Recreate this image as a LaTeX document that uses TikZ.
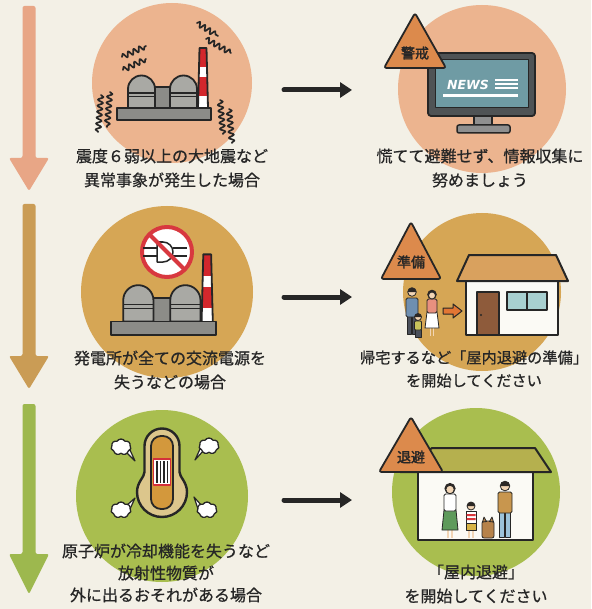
\documentclass[tikz,border=0pt]{standalone}
\usepackage{fontspec}
\newfontfamily\jpfont[FakeBold=0.8]{Noto Sans CJK JP}
\newfontfamily\signfont[FakeBold=2]{Noto Sans CJK JP}
\newfontfamily\newsfont{DejaVu Sans}
\usetikzlibrary{arrows.meta,decorations.pathmorphing,shapes.symbols}

\definecolor{paper}{HTML}{F3F0E6}
\definecolor{peach}{HTML}{ECB48F}
\definecolor{gold}{HTML}{D6A655}
\definecolor{leaf}{HTML}{A9BE4F}
\definecolor{flowA}{HTML}{E8A686}
\definecolor{flowB}{HTML}{CA9C55}
\definecolor{flowC}{HTML}{9DB84E}
\definecolor{ink}{HTML}{262626}
\definecolor{warn}{HTML}{DC8A4C}
\definecolor{dome}{HTML}{A9A9A4}
\definecolor{steel}{HTML}{8C8C88}
\definecolor{chimred}{HTML}{D3272C}
\definecolor{screen}{HTML}{6F9BA4}
\definecolor{bezel}{HTML}{4F5355}
\definecolor{standgray}{HTML}{8F8F8F}
\definecolor{nored}{HTML}{D8383F}
\definecolor{vessel}{HTML}{DCC68C}
\definecolor{core}{HTML}{D3983C}
\definecolor{fuelred}{HTML}{D42F3A}
\definecolor{roofA}{HTML}{D9A15E}
\definecolor{roofB}{HTML}{B5B04E}
\definecolor{wall}{HTML}{FBFAF5}
\definecolor{door}{HTML}{8E5B3B}
\definecolor{glass}{HTML}{A8D0D0}
\definecolor{arrowor}{HTML}{E27634}
\definecolor{skin}{HTML}{F2D5B5}
\definecolor{hair}{HTML}{2C2826}
\definecolor{shirtblue}{HTML}{6F8FB0}
\definecolor{pantsdark}{HTML}{4B505B}
\definecolor{pink}{HTML}{E8907F}
\definecolor{kidgreen}{HTML}{C7C35A}
\definecolor{skirtgreen}{HTML}{5E9A5B}
\definecolor{stripe}{HTML}{D8353A}
\definecolor{shorts}{HTML}{D8B345}
\definecolor{dogbrown}{HTML}{B6824A}
\definecolor{jacket}{HTML}{C8964E}
\definecolor{jeans}{HTML}{9CC3DA}

\tikzset{
  ink line/.style={draw=ink, line width=1.8pt, line join=round},
  thin ink/.style={draw=ink, line width=0.8pt, line join=round},
  caption/.style={font=\jpfont\fontsize{16}{24}\selectfont, text=ink, align=center, inner sep=0pt},
  sign text/.style={font=\signfont\fontsize{14}{14}\selectfont, text=ink, inner sep=0pt},
  warn sign/.style={fill=warn, draw=ink, line width=1.8pt, rounded corners=2.5pt},
  quake/.style={draw=ink, line width=1.7pt, line cap=round, decorate,
    decoration={snake, amplitude=2.6pt, segment length=6pt}},
  flow/.style={draw=ink, line width=5pt, line cap=round, -{Triangle[length=12pt,width=15pt]}},
  puff/.style={cloud, cloud puffs=7, cloud puff arc=120, aspect=1.3, draw=ink, fill=white,
    line width=1.3pt, minimum width=20pt, minimum height=16pt, inner sep=0pt},
  pics/plant/.style={code={
    % striped chimney
    \begin{scope}
      \clip (80,-12) -- (81.5,-72) -- (88.5,-72) -- (90,-12) -- cycle;
      \fill[white] (78,-74) rectangle (92,-12);
      \fill[chimred] (78,-74) rectangle (92,-53);
      \fill[chimred] (78,-43) rectangle (92,-24);
    \end{scope}
    \draw[ink line] (80,-12) -- (81.5,-72) -- (88.5,-72) -- (90,-12);
    % block between the domes
    \filldraw[ink line, fill=steel] (36,-12) rectangle (54,-33);
    % two reactor domes
    \foreach \l in {10,52}{
      \filldraw[ink line, fill=dome] (\l,-12) -- (\l,-31)
        arc[start angle=180, end angle=360, radius=13.5] -- ({\l+27},-12) -- cycle;
      \draw[ink line, line width=1.2pt] (\l,-27) -- ({\l+27},-27) (\l,-23.5) -- ({\l+27},-23.5);
    }
    % base slab
    \filldraw[ink line, fill=steel] (-1,0) rectangle (93,-12);
  }},
}

\newcommand\flowarrow[4]{%
  \fill[#1, rounded corners=2pt] (22.5,#2) -- (35.5,#2) -- (35.5,#3) -- (49,#3)
    -- (29,#4) -- (9,#3) -- (22.5,#3) -- cycle;}

\begin{document}
\begin{tikzpicture}[x=1pt, y=-1pt, line join=round]
\useasboundingbox (0,0) rectangle (591,609);
\fill[paper] (0,0) rectangle (591,609);

% ---- stage arrows on the left ----
\flowarrow{flowA}{6}{158}{191}
\flowarrow{flowB}{204}{356}{389}
\flowarrow{flowC}{404}{554}{594}

% ---- background discs ----
\fill[peach] (172,83) circle (80);
\fill[peach] (482,89) circle (84);
\fill[gold] (167,292) circle (86);
\fill[gold] (482,292) circle (79);
\fill[leaf] (162,496) circle (86);
\fill[leaf] (476,492) circle (84);

% ---- stage 1: earthquake at the plant ----
\pic at (118,120) {plant};
\draw[quake] (122,57) -- (146,46);
\draw[quake] (123,70) -- (146,59);
\draw[quake] (197,23) -- (218,36);
\draw[quake] (206,39) -- (231,53);
\draw[quake] (101,95) -- (98,132);
\draw[quake] (110,92) -- (107,127);
\draw[quake] (220,100) -- (223,134);
\draw[quake] (229,109) -- (232,143);

% ---- stage 1: news on TV ----
\filldraw[ink line, fill=bezel, rounded corners=3pt] (428,53) rectangle (535,116);
\filldraw[fill=screen, draw=ink, line width=1pt] (435,60) rectangle (528,108);
\filldraw[ink line, line width=1.5pt, fill=standgray] (474,116) rectangle (492,125);
\filldraw[ink line, line width=1.5pt, fill=standgray, rounded corners=2pt] (457,125) rectangle (510,133);
\node[text=white, font=\newsfont\bfseries\itshape\fontsize{12.5}{12.5}\selectfont, inner sep=0pt] (news) at (468,84.5) {NEWS};
\fill[white] (495,79.5) rectangle (518,81.5);
\fill[white] (495,83.5) rectangle (518,85.5);
\fill[white] (495,87.5) rectangle (518,89.5);
\fill[white] (443,94.5) rectangle (518,97);
\path[warn sign] (415,13) -- (446,68) -- (384,68) -- cycle;
\node[sign text] (sign1) at (415,53) {警戒};

% ---- stage 2: plant without AC power ----
\pic[scale=1.12] at (112,335) {plant};
\filldraw[fill=white, draw=nored, line width=4pt] (167,252) circle (25);
\draw[ink, line width=1.5pt] (143,248) -- (157,248) (143,256) -- (157,256);
\draw[ink, line width=1.5pt] (173,248) -- (187,248) (173,256) -- (187,256);
\filldraw[ink, line width=1.5pt, fill=white] (157,242) -- (163,242)
  arc[start angle=270, end angle=450, radius=10] -- (157,262) -- cycle;
\draw[nored, line width=4pt] (149,234) -- (185,270);

% ---- stage 2: going home ----
\filldraw[ink line, line width=2pt, fill=wall] (466,281) rectangle (558,335);
\filldraw[ink line, line width=2pt, fill=roofA] (457,281) -- (469,255) -- (556,255) -- (568,281) -- cycle;
\filldraw[ink line, line width=1.4pt, fill=door] (477,292) rectangle (499,335);
\fill[ink] (481,315) circle (1.2);
\filldraw[ink line, line width=1.4pt, fill=glass] (507,292) rectangle (547,310);
\draw[ink, line width=1.4pt] (527,292) -- (527,310);
\filldraw[draw=ink, line width=1pt, fill=arrowor] (443,308) -- (453,308) -- (453,304)
  -- (462,311) -- (453,318) -- (453,314) -- (443,314) -- cycle;
% father
\filldraw[thin ink, fill=pantsdark] (407,316) rectangle (411.5,334);
\filldraw[thin ink, fill=pantsdark] (412.5,316) rectangle (417,334);
\filldraw[thin ink, fill=shirtblue, rounded corners=1.5pt] (406,298) rectangle (418,317);
\filldraw[thin ink, fill=skin] (412,292) circle (4.3);
\fill[hair] (407.7,292) arc[start angle=180, end angle=360, radius=4.3] -- cycle;
% mother
\draw[skin, line width=1.6pt] (430.5,327) -- (430.5,336) (433.5,327) -- (433.5,336);
\filldraw[thin ink, fill=white] (427,312) -- (437,312) -- (439,328) -- (425,328) -- cycle;
\filldraw[thin ink, fill=pink, rounded corners=1.5pt] (427,299) rectangle (437,313);
\fill[hair] (432,294.5) circle (4.8);
\filldraw[thin ink, fill=skin] (432,295.5) circle (3.5);
% child
\filldraw[thin ink, fill=pantsdark] (415,329) rectangle (421,337);
\filldraw[thin ink, fill=kidgreen, rounded corners=1pt] (414.5,321) rectangle (421.5,330);
\filldraw[thin ink, fill=skin] (418,317) circle (3.5);
\fill[hair] (414.5,317) arc[start angle=180, end angle=360, radius=3.5] -- cycle;
\path[warn sign] (411,222) -- (441,279) -- (381,279) -- cycle;
\node[sign text] (sign2) at (411,262) {準備};

% ---- stage 3: reactor losing cooling ----
\filldraw[fill=white, draw=ink, line width=1.2pt] (126,452) -- (135,461) -- (130,450) -- cycle;
\filldraw[fill=white, draw=ink, line width=1.2pt] (204,450) -- (195,460) -- (200,449) -- cycle;
\filldraw[fill=white, draw=ink, line width=1.2pt] (126,506) -- (135,498) -- (130,509) -- cycle;
\filldraw[fill=white, draw=ink, line width=1.2pt] (202,506) -- (194,497) -- (198,509) -- cycle;
\node[puff] (puff1) at (121,447) {};
\node[puff] (puff2) at (209,446) {};
\node[puff] (puff3) at (121,510) {};
\node[puff] (puff4) at (207,510) {};
\filldraw[ink line, line width=2.4pt, fill=vessel] (144.5,446)
  arc[start angle=180, end angle=360, radius=17.5] -- (179.5,472)
  .. controls (179.5,477) and (187,482) .. (187,492)
  arc[start angle=0, end angle=180, radius=25]
  .. controls (137,482) and (144.5,477) .. (144.5,472) -- cycle;
\filldraw[ink line, fill=core, rounded corners=10pt] (151,436) rectangle (173,509);
\filldraw[fill=white, draw=fuelred, line width=1.8pt] (153.5,459) rectangle (170.5,485);
\foreach \x in {157,160.5,164,167.5}
  \draw[ink, line width=1.2pt] (\x,461) -- (\x,483);

% ---- stage 3: sheltering indoors ----
\filldraw[ink line, line width=2pt, fill=wall] (418,472) rectangle (533,540);
\filldraw[ink line, line width=2pt, fill=roofB] (400,472) -- (432,448) -- (535,448) -- (551,472) -- cycle;
% mother
\draw[skin, line width=1.8pt] (448,529) -- (448,538) (452,529) -- (452,538);
\filldraw[thin ink, fill=skirtgreen] (444,510) -- (456,510) -- (458,530) -- (442,530) -- cycle;
\filldraw[thin ink, fill=white, rounded corners=1.5pt] (444,494) rectangle (456,511);
\fill[hair] (450,488.5) circle (5.6);
\filldraw[thin ink, fill=skin] (450,489.5) circle (4.2);
% boy
\draw[skin, line width=1.8pt] (469,529) -- (469,538) (473,529) -- (473,538);
\filldraw[thin ink, fill=shorts] (466,522) rectangle (476,530);
\filldraw[thin ink, fill=white] (466,511) rectangle (476,523);
\fill[stripe] (466.5,514) rectangle (475.5,516) (466.5,518) rectangle (475.5,520);
\filldraw[thin ink, fill=skin] (471,506) circle (4);
\fill[hair] (467,506) arc[start angle=180, end angle=360, radius=4] -- cycle;
% dog
\filldraw[thin ink, fill=dogbrown, rounded corners=2pt] (482,521) rectangle (494,538);
\filldraw[thin ink, fill=dogbrown] (482.5,522) -- (484,517) -- (486.5,521.5) -- cycle;
\filldraw[thin ink, fill=dogbrown] (493.5,522) -- (492,517) -- (489.5,521.5) -- cycle;
% father
\filldraw[thin ink, fill=jeans] (499.5,512) rectangle (504.5,537);
\filldraw[thin ink, fill=jeans] (505.5,512) rectangle (510.5,537);
\filldraw[thin ink, fill=jacket, rounded corners=1.5pt] (498,492) rectangle (512,513);
\filldraw[thin ink, fill=skin] (505,486) circle (4.8);
\fill[hair] (500.2,486) arc[start angle=180, end angle=360, radius=4.8] -- cycle;
\path[warn sign] (411,417) -- (443,472) -- (379,472) -- cycle;
\node[sign text] (sign3) at (411,457) {退避};

% ---- arrows from situation to action ----
\coordinate (from1) at (284,90);  \coordinate (to1) at (352,90);
\coordinate (from2) at (284,297); \coordinate (to2) at (352,297);
\coordinate (from3) at (284,500); \coordinate (to3) at (352,500);
\draw[flow] (from1) -- (to1);
\draw[flow] (from2) -- (to2);
\draw[flow] (from3) -- (to3);

% ---- captions ----
\node[caption] (cap1) at (172,168) {震度６弱以上の大地震など\\異常事象が発生した場合};
\node[caption] (cap2) at (480,168) {慌てて避難せず、情報収集に\\努めましょう};
\node[caption] (cap3) at (170,370) {発電所が全ての交流電源を\\失うなどの場合};
\node[caption, font=\jpfont\fontsize{15.2}{23}\selectfont] (cap4) at (474,369) {帰宅するなど「屋内退避の準備」\\を開始してください};
\node[caption, font=\jpfont\fontsize{16}{22}\selectfont] (cap5) at (166,573) {原子炉が冷却機能を失うなど\\放射性物質が\\外に出るおそれがある場合};
\node[caption] (cap6) at (476,584) {「屋内退避」\\を開始してください};
\end{tikzpicture}
\end{document}
